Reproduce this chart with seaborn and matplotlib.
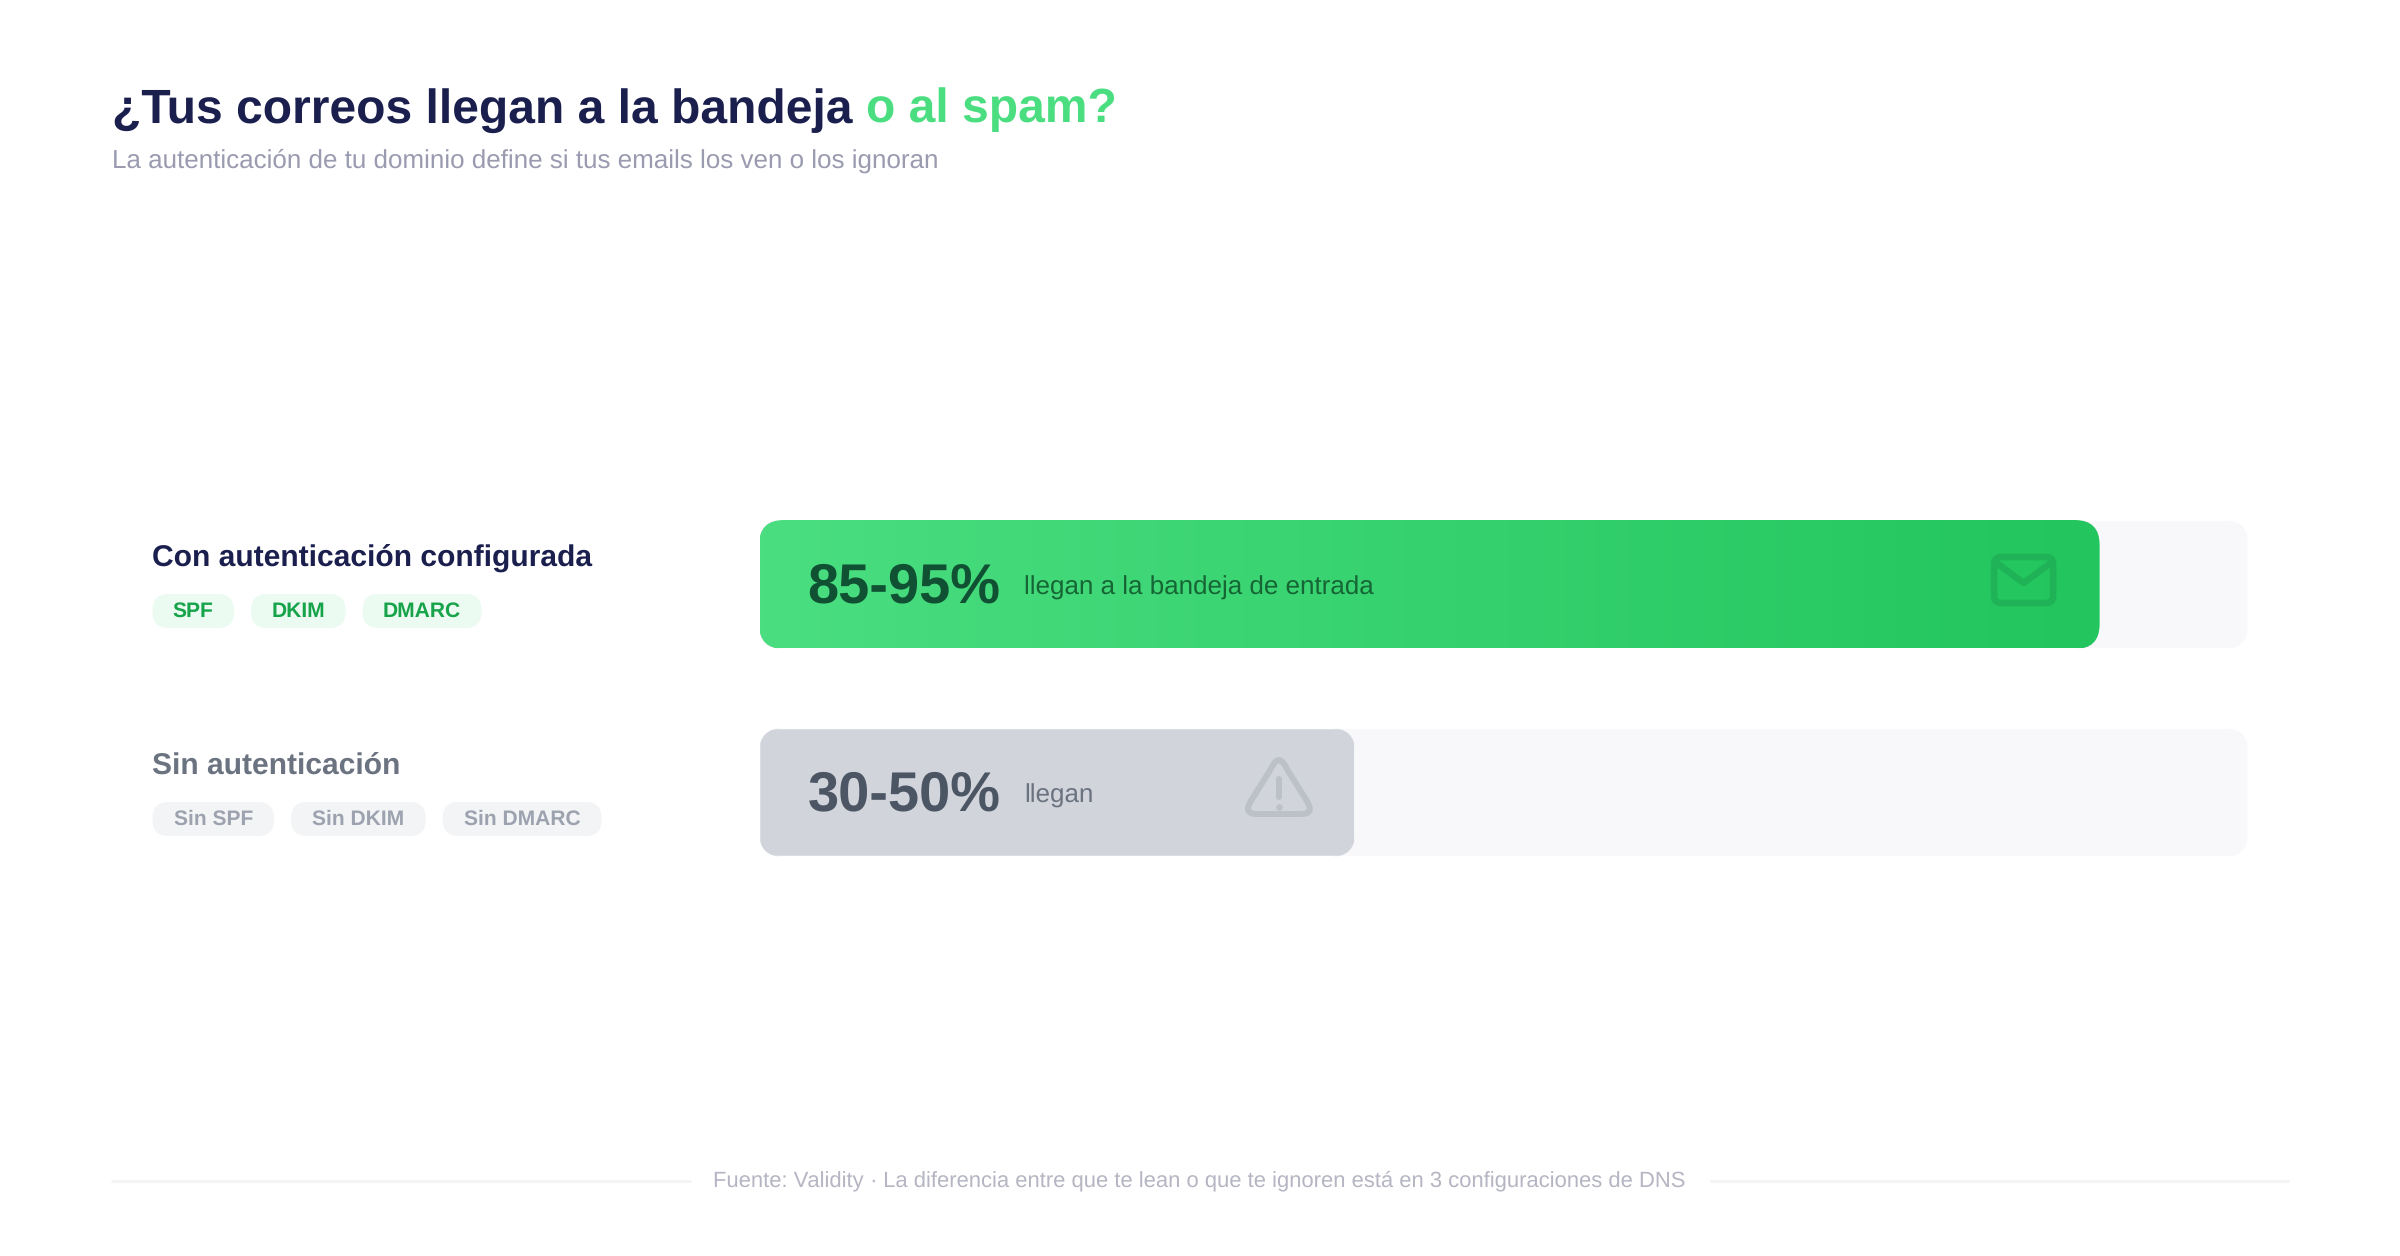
#!/usr/bin/env python3
"""Inbox placement bars: authenticated vs unauthenticated domains"""

import numpy as np
import matplotlib
matplotlib.use("Agg")
import matplotlib.pyplot as plt
import seaborn as sns
from matplotlib.colors import LinearSegmentedColormap
from matplotlib.patches import FancyBboxPatch, PathPatch
from matplotlib.path import Path

row_labels = ["Con autenticación configurada", "Sin autenticación"]
track_values = [100, 100]
bar_values = [90, 40]
value_labels = ["85-95%", "30-50%"]
value_notes = ["llegan a la bandeja de entrada", "llegan"]
row_tags = [["SPF", "DKIM", "DMARC"], ["Sin SPF", "Sin DKIM", "Sin DMARC"]]

WIDTH, HEIGHT = 2400, 1256
NAVY = "#1a1f4e"

sns.set_style("white")
plt.rcParams["font.family"] = ["Liberation Sans", "DejaVu Sans"]
plt.rcParams["text.hinting"] = "no_hinting"
plt.rcParams["text.hinting_factor"] = 1


def px(size):
    """Font size in points from a height in pixels (dpi 100)."""
    return size * 0.72


def rounded(x0, y0, x1, y1, radius, **kw):
    return FancyBboxPatch(
        (x0, y0), x1 - x0, y1 - y0, boxstyle=f"round,pad=0,rounding_size={radius}", **kw
    )


def draw_envelope(ov, cx, cy, color):
    ov.add_patch(rounded(cx - 29.5, cy - 24, cx + 29.5, cy + 22, 7, fc="none", ec=color, lw=px(6.5)))
    ov.plot([cx - 27, cx, cx + 27], [cy - 18, cy + 2, cy - 18], color=color, lw=px(6.5),
            solid_capstyle="round", solid_joinstyle="round")


def draw_warning(ov, cx, cy, color):
    verts = [
        (cx - 8, cy - 24), (cx, cy - 42), (cx + 8, cy - 24),
        (cx + 28, cy + 8), (cx + 36, cy + 21), (cx + 22, cy + 21),
        (cx - 22, cy + 21), (cx - 36, cy + 21), (cx - 28, cy + 8),
        (cx - 8, cy - 24),
    ]
    codes = [Path.MOVETO, Path.CURVE3, Path.CURVE3, Path.LINETO, Path.CURVE3, Path.CURVE3,
             Path.LINETO, Path.CURVE3, Path.CURVE3, Path.LINETO]
    ov.add_patch(PathPatch(Path(verts, codes), fc="none", ec=color, lw=px(6)))
    ov.plot([cx, cx], [cy - 14, cy + 4], color=color, lw=px(6), solid_capstyle="round")
    ov.plot([cx], [cy + 14], "o", color=color, ms=px(6.5), mew=0)


def main():
    fig = plt.figure(figsize=(WIDTH / 100, HEIGHT / 100), dpi=100, facecolor="white")

    # bars: 0-100 scale over the track width
    ax = fig.add_axes([759.5 / WIDTH, 1 - 896.5 / HEIGHT, 1488.5 / WIDTH, 416 / HEIGHT])
    sns.barplot(x=track_values, y=row_labels, orient="h", width=128 / 208, color="#f8f8fa",
                saturation=1, ax=ax)
    n_track = len(ax.patches)
    sns.barplot(x=bar_values, y=row_labels, orient="h", width=128 / 208, color="#d1d5db",
                saturation=1, ax=ax)
    ax.set_xlim(0, 100)
    ax.set_ylim(1.5, -0.5)
    ax.axis("off")

    # overlay in pixel coordinates for text and decoration
    ov = fig.add_axes([0, 0, 1, 1], facecolor="none")
    ov.set_xlim(0, WIDTH)
    ov.set_ylim(HEIGHT, 0)
    ov.axis("off")

    fig.canvas.draw()
    boxes = []
    for bar in ax.patches:
        ext = bar.get_window_extent()
        # the clip shape is rasterised without smoothing, so leave it a hair wider than the bar
        clip = rounded(ext.x0 - 0.5, HEIGHT - ext.y1 - 0.5, ext.x1 + 0.5, HEIGHT - ext.y0 + 0.5, 25,
                       transform=ov.transData)
        bar.set_clip_path(clip)
        bar.set_snap(False)
        boxes.append((ext.x0, HEIGHT - ext.y1, ext.x1, HEIGHT - ext.y0, clip))

    # green gradient over the first value bar
    x0, y0, x1, y1, clip = boxes[n_track]
    green = ax.patches[n_track]
    cmap = LinearSegmentedColormap.from_list("inbox", ["#4ade80", "#22c55e"])
    im = ax.imshow(
        np.linspace(0, 1, 256).reshape(1, -1),
        extent=[green.get_x(), green.get_x() + green.get_width(),
                green.get_y() + green.get_height(), green.get_y()],
        aspect="auto", cmap=cmap, zorder=3,
    )
    im.set_clip_path(clip)
    ax.set_xlim(0, 100)
    ax.set_ylim(1.5, -0.5)

    # title block
    ov.text(112, 122.5, "¿Tus correos llegan a la bandeja", fontsize=px(48), fontweight="bold",
            color=NAVY, va="baseline")
    ov.text(866, 122.5, "o al spam?", fontsize=px(48), fontweight="bold", color="#4ade80", va="baseline")
    ov.text(112, 168, "La autenticación de tu dominio define si tus emails los ven o los ignoran",
            fontsize=px(26), color="#9a9ab0", va="baseline")

    # rows
    label_colors = [NAVY, "#6b7280"]
    value_colors = ["#0f5132", "#4b5563"]
    note_colors = ["#166534", "#6b7280"]
    tag_fills = ["#ecfbf1", "#f3f4f6"]
    tag_colors = ["#16a34a", "#9ca3af"]
    label_y = [566, 774]
    tag_top = [594, 802]
    renderer = fig.canvas.get_renderer()
    for i, label in enumerate(row_labels):
        x0, y0, x1, y1, _ = boxes[n_track + i]
        ov.text(152, label_y[i], label, fontsize=px(29.7), fontweight="bold",
                color=label_colors[i], va="baseline")
        ov.text(x0 + 48, y0 + 82, value_labels[i], fontsize=px(56), fontweight="bold",
                color=value_colors[i], va="baseline")
        ov.text(x0 + 265, y0 + 74, value_notes[i], fontsize=px(26), color=note_colors[i], va="baseline")

        left = 152.5
        for tag in row_tags[i]:
            t = ov.text(left, tag_top[i] + 23, tag, fontsize=px(20.8), fontweight="bold",
                        color=tag_colors[i], va="baseline", ha="center", zorder=3)
            # the original tags carry letter spacing, matplotlib text does not
            w = t.get_window_extent(renderer).width * 0.96 + 0.77 * len(tag) + 40
            t.set_x(left + w / 2)
            ov.add_patch(rounded(left, tag_top[i], left + w, tag_top[i] + 34, 16,
                                 fc=tag_fills[i], ec="none", zorder=2))
            left += w + 17

    draw_envelope(ov, boxes[n_track][2] - 75.5, 581, "#1fb257")
    draw_warning(ov, boxes[n_track + 1][2] - 76, 793, "#bcc0c7")

    # footer
    for a, b in [(112, 690), (1711, 2288)]:
        ov.plot([a, b], [1181, 1181], color="#f3f4f6", lw=px(3))
    ov.text(1199, 1186, "Fuente: Validity · La diferencia entre que te lean o que te ignoren está en 3 configuraciones de DNS",
            fontsize=px(22), color="#b5b5c3", ha="center", va="baseline")

    fig.savefig("out.png", dpi=100)
    plt.close(fig)


if __name__ == "__main__":
    main()
